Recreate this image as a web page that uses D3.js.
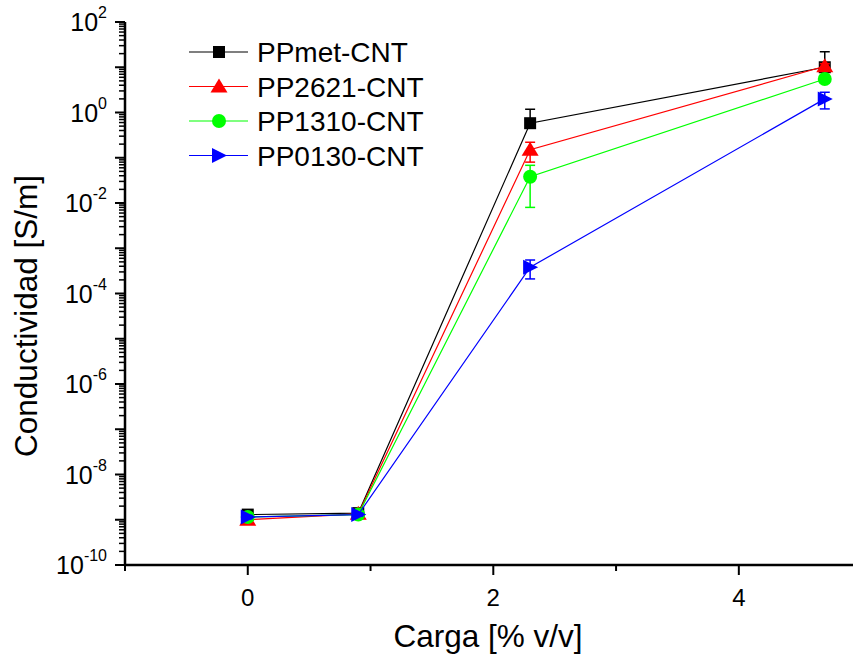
<!DOCTYPE html>
<html>
<head>
<meta charset="utf-8">
<script src="https://cdn.jsdelivr.net/npm/d3@7"></script>
<style>
  body { margin: 0; background: #fff; }
  text { font-family: "Liberation Sans", Arial, sans-serif; }
</style>
</head>
<body>
<div id="chart"></div>
<script>
// carga [% v/v]
var carga = [0, 0.9, 2.3, 4.7];

var seriesNames = ['PPmet-CNT', 'PP2621-CNT', 'PP1310-CNT', 'PP0130-CNT'];
var seriesColors = ['#000000', '#ff0000', '#00ff00', '#0000ff'];
var seriesSymbols = ['square', 'triangle', 'circle', 'right'];

// conductividad [S/m]
var ppmet = [1.3e-9, 1.4e-9, 0.58, 10];
var pp2621 = [1.0e-9, 1.35e-9, 0.15, 10.5];
var pp1310 = [1.15e-9, 1.3e-9, 0.038, 5.5];
var pp0130 = [1.15e-9, 1.3e-9, 3.8e-4, 2.0];

// desviacion
var ppmetErr = [0.1e-9, 0.1e-9, 0.6, 12];
var pp2621Err = [0.2e-9, 0.1e-9, 0.07, 1.5];
var pp1310Err = [0.1e-9, 0.1e-9, 0.03, 1.0];
var pp0130Err = [0.1e-9, 0.1e-9, 1.7e-4, 0.8];

var xTicks = [-1, 0, 1, 2, 3, 4];
var xLabels = [0, 2, 4];
var yExps = [-10, -8, -6, -4, -2, 0, 2];

var values = [ppmet, pp2621, pp1310, pp0130];
var errors = [ppmetErr, pp2621Err, pp1310Err, pp0130Err];

var width = 853,
  height = 662;

var margin = { top: 22, right: 0, bottom: 97, left: 125 };

var svg = d3.select('#chart')
  .append('svg')
  .attr('width', width)
  .attr('height', height);

var w = width - margin.left - margin.right,
  h = height - margin.top - margin.bottom;

var g = svg.append('g')
  .attr('transform', 'translate(' + margin.left + ',' + margin.top + ')');

var x = d3.scaleLinear().domain([-1, 4.93]).range([0, w]);
var y = d3.scaleLog().domain([1e-10, 1e2]).range([h, 0]);

// y ticks: decades long, 2..9 short
var minorY = [];
for (var k = -10; k < 2; k++) {
  for (var m = 2; m <= 9; m++) minorY.push(m * Math.pow(10, k));
}
var decadesY = d3.range(-10, 3).map(function(e) { return Math.pow(10, e); });

g.append('g').selectAll('line.minor')
  .data(minorY).enter().append('line')
  .attr('x1', -6).attr('x2', 0)
  .attr('y1', function(d) { return y(d); })
  .attr('y2', function(d) { return y(d); })
  .attr('stroke', '#000').attr('stroke-width', 1.5);

g.append('g').selectAll('line.major')
  .data(decadesY).enter().append('line')
  .attr('x1', -10).attr('x2', 0)
  .attr('y1', function(d) { return y(d); })
  .attr('y2', function(d) { return y(d); })
  .attr('stroke', '#000').attr('stroke-width', 2);

var yl = g.append('g').selectAll('text')
  .data(yExps).enter().append('text')
  .attr('x', -18)
  .attr('y', function(d) { return y(Math.pow(10, d)) + 9; })
  .attr('text-anchor', 'end')
  .attr('font-size', 25);
yl.append('tspan').text('10');
yl.append('tspan').attr('dy', -13).attr('font-size', 16)
  .text(function(d) { return d; });

// x ticks
g.append('g').selectAll('line')
  .data(xTicks).enter().append('line')
  .attr('x1', function(d) { return x(d); })
  .attr('x2', function(d) { return x(d); })
  .attr('y1', h)
  .attr('y2', function(d) { return d % 2 === 0 ? h + 10 : h + 6; })
  .attr('stroke', '#000').attr('stroke-width', 2);

g.append('g').selectAll('text')
  .data(xLabels).enter().append('text')
  .attr('x', function(d) { return x(d); })
  .attr('y', h + 41)
  .attr('text-anchor', 'middle')
  .attr('font-size', 24)
  .text(function(d) { return d; });

// axis lines
g.append('line').attr('x1', 0).attr('x2', 0).attr('y1', 0).attr('y2', h)
  .attr('stroke', '#000').attr('stroke-width', 2.5);
g.append('line').attr('x1', -1).attr('x2', w).attr('y1', h).attr('y2', h)
  .attr('stroke', '#000').attr('stroke-width', 2.5);

// axis titles
svg.append('text')
  .attr('transform', 'translate(37,316) rotate(-90)')
  .attr('text-anchor', 'middle')
  .attr('font-size', 31.5)
  .text('Conductividad [S/m]');

svg.append('text')
  .attr('x', 488)
  .attr('y', 647)
  .attr('text-anchor', 'middle')
  .attr('font-size', 31.5)
  .text('Carga [% v/v]');

function drawMarker(sel, sym, color) {
  if (sym === 'square') {
    sel.append('rect').attr('x', -6).attr('y', -6).attr('width', 12).attr('height', 12)
      .attr('fill', color);
  } else if (sym === 'triangle') {
    sel.append('path').attr('d', 'M0,-8L8.5,6L-8.5,6Z').attr('fill', color);
  } else if (sym === 'circle') {
    sel.append('circle').attr('r', 7).attr('fill', color);
  } else {
    sel.append('path').attr('d', 'M-7,-7.5L8,0L-7,7.5Z').attr('fill', color);
  }
}

var line = d3.line()
  .x(function(d) { return x(d[0]); })
  .y(function(d) { return y(d[1]); });

values.forEach(function(vals, i) {
  var color = seriesColors[i];
  var pts = carga.map(function(c, j) { return [c, vals[j]]; });
  var sg = g.append('g');

  sg.append('path').datum(pts)
    .attr('d', line)
    .attr('fill', 'none')
    .attr('stroke', color)
    .attr('stroke-width', 1.2);

  // error bars
  pts.forEach(function(p, j) {
    var e = errors[i][j];
    var top = p[1] + e, bot = p[1] - e;
    var cx = x(p[0]);
    sg.append('line').attr('x1', cx).attr('x2', cx)
      .attr('y1', y(top)).attr('y2', bot > 0 ? y(bot) : y(p[1]))
      .attr('stroke', color).attr('stroke-width', 1.5);
    sg.append('line').attr('x1', cx - 5).attr('x2', cx + 5)
      .attr('y1', y(top)).attr('y2', y(top))
      .attr('stroke', color).attr('stroke-width', 1.5);
    if (bot > 0) {
      sg.append('line').attr('x1', cx - 5).attr('x2', cx + 5)
        .attr('y1', y(bot)).attr('y2', y(bot))
        .attr('stroke', color).attr('stroke-width', 1.5);
    }
  });

  pts.forEach(function(p) {
    var mg = sg.append('g')
      .attr('transform', 'translate(' + x(p[0]) + ',' + y(p[1]) + ')');
    drawMarker(mg, seriesSymbols[i], color);
  });
});

// legend
var legend = svg.append('g');
seriesNames.forEach(function(name, i) {
  var ly = 52 + i * 34.5;
  var lg = legend.append('g');
  lg.append('line').attr('x1', 189).attr('x2', 248).attr('y1', ly).attr('y2', ly)
    .attr('stroke', seriesColors[i]).attr('stroke-width', 1.2);
  var mg = lg.append('g').attr('transform', 'translate(219,' + ly + ')');
  drawMarker(mg, seriesSymbols[i], seriesColors[i]);
  lg.append('text').attr('x', 257).attr('y', ly + 10)
    .attr('font-size', 28)
    .text(name);
});
</script>
</body>
</html>
